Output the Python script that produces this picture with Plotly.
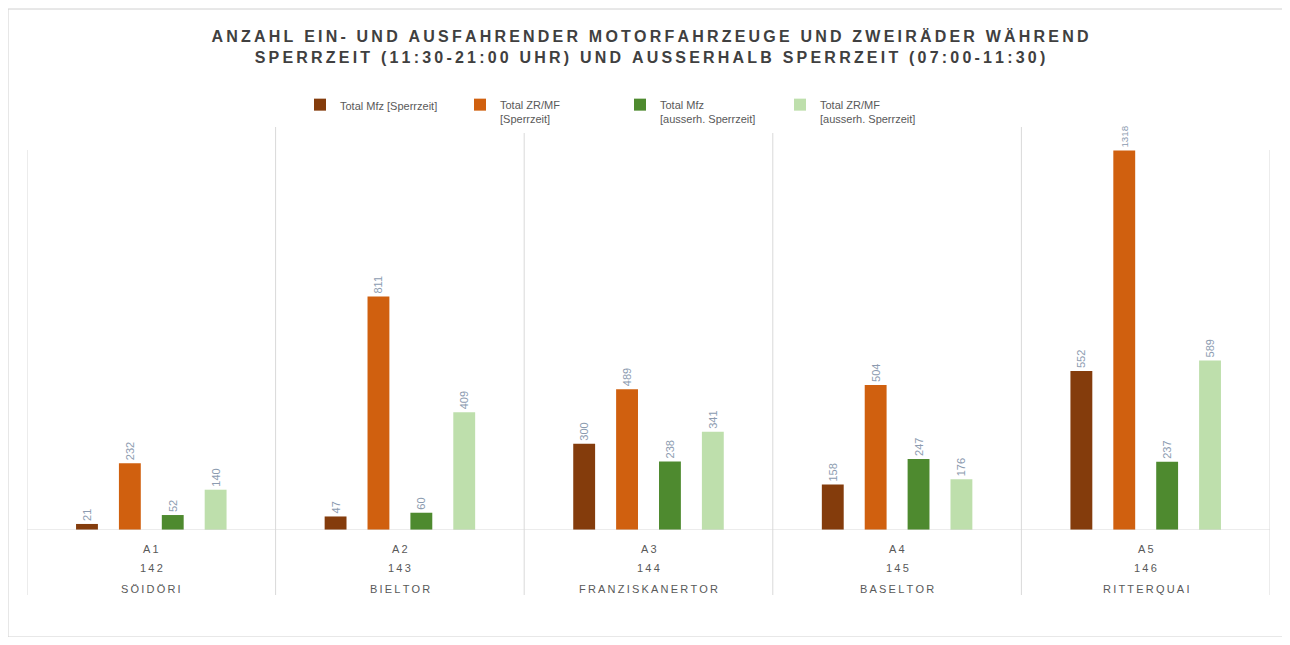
import plotly.graph_objects as go

# ---- data ----
codes = ["A1", "A2", "A3", "A4", "A5"]
numbers = ["142", "143", "144", "145", "146"]
names = ["SÖIDÖRI", "BIELTOR", "FRANZISKANERTOR", "BASELTOR", "RITTERQUAI"]

series_names = [
    "Total Mfz [Sperrzeit]",
    "Total ZR/MF<br>[Sperrzeit]",
    "Total Mfz<br>[ausserh. Sperrzeit]",
    "Total ZR/MF<br>[ausserh. Sperrzeit]",
]
mfz_sperr = [21, 47, 300, 158, 552]
zr_sperr = [232, 811, 489, 504, 1318]
mfz_ausser = [52, 60, 238, 247, 237]
zr_ausser = [140, 409, 341, 176, 589]
series_values = [mfz_sperr, zr_sperr, mfz_ausser, zr_ausser]
colors = ["#843C0C", "#D0600F", "#4E8A2F", "#BEDFAC"]

title_lines = ["ANZAHL EIN- UND AUSFAHRENDER MOTORFAHRZEUGE UND ZWEIRÄDER WÄHREND",
               "SPERRZEIT (11:30-21:00 UHR) UND AUSSERHALB SPERRZEIT (07:00-11:30)"]

# ---- layout geometry (target pixels; page body has an 8px offset) ----
OFF = 8
W, H = 1290 - 2 * OFF, 645 - 2 * OFF
L, R, T, B = 27 - OFF, 20 - OFF, 127 - OFF, 645 - 530 - OFF
plot_h = H - T - B
plot_w = W - L - R

def py(pix):  # target pixel y -> paper y
    return (H - B - (pix - OFF)) / plot_h

def px(pix):
    return (pix - OFF - L) / plot_w

def spaced(txt, sep="\u2009"):
    return sep.join(txt)

fig = go.Figure()
xs = list(range(len(codes)))
for name, vals, col in zip(series_names, series_values, colors):
    fig.add_trace(go.Bar(
        x=xs, y=vals, name=name,
        marker=dict(color=col, line=dict(width=0)),
        text=[str(v) for v in vals], textposition="outside", textangle=-90,
        textfont=dict(family="Liberation Sans, Arial", size=11, color="#8C9BB0"),
        cliponaxis=False,
    ))

shapes = []
for k in range(len(codes) + 1):
    shapes.append(dict(type="line", xref="x", yref="paper",
                       x0=k - 0.5, x1=k - 0.5, y0=py(595), y1=py(150) if k in (0, 5) else 1.0,
                       line=dict(color="#D9D9D9", width=1)))
shapes.append(dict(type="line", xref="paper", yref="y", x0=0, x1=1, y0=0, y1=0,
                   line=dict(color="#D9D9D9", width=1)))
shapes.append(dict(type="rect", xref="paper", yref="paper",
                   x0=px(8), x1=px(1283), y0=py(637), y1=py(9),
                   line=dict(color="#D0D0D0", width=1), fillcolor="rgba(0,0,0,0)",
                   layer="below"))

annotations = []
lab_font = dict(family="Liberation Sans, Arial", size=11, color="#595959")
for i in xs:
    for txt, ypix in ((codes[i], 549), (numbers[i], 568), (names[i], 589)):
        annotations.append(dict(x=i, y=py(ypix), xref="x", yref="paper", text=spaced(txt),
                                showarrow=False, font=lab_font, yanchor="middle"))

title_text = "<br>".join(spaced(t) for t in title_lines)

fig.update_layout(
    width=W, height=H,
    margin=dict(l=L, r=R, t=T, b=B),
    paper_bgcolor="white", plot_bgcolor="white",
    title=dict(text="<b>" + title_text + "</b>", x=px(650), xanchor="center",
               xref="paper",
               y=1 - (42 - OFF) / H, yanchor="middle", yref="container",
               font=dict(family="Liberation Sans, Arial", size=16, color="#404040")),
    barmode="group", bargap=0.31, bargroupgap=0.49,
    xaxis=dict(range=[-0.5, 4.5], showticklabels=False, showgrid=False,
               zeroline=False, showline=False, ticks=""),
    yaxis=dict(range=[0, 1400], visible=False, showgrid=False, zeroline=False),
    legend=dict(orientation="h", x=px(620), xanchor="center", y=py(91), yanchor="top",
                font=dict(family="Liberation Sans, Arial", size=11, color="#595959"),
                itemwidth=30, traceorder="normal", valign="top",
                entrywidth=115, entrywidthmode="pixels"),
    shapes=shapes, annotations=annotations,
    showlegend=True,
)

fig.write_html("out.html")
